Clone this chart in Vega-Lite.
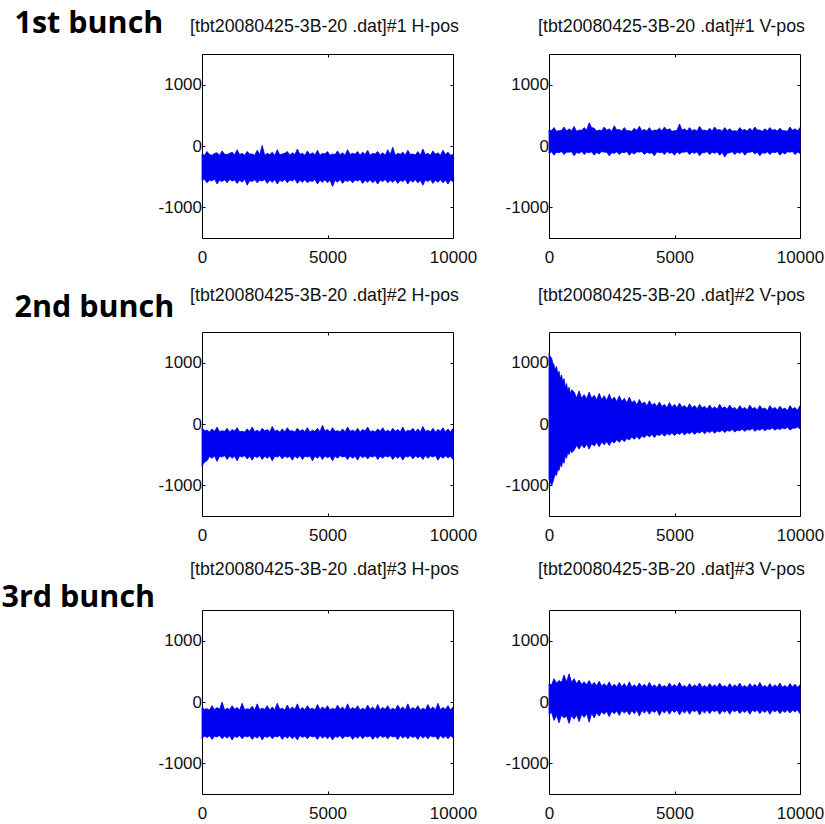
{
"$schema": "https://vega.github.io/schema/vega-lite/v6.json",
"background": "white",
"padding": {"left": 0, "top": 7, "right": 0, "bottom": 0},
"columns": 2,
"spacing": {"row": 94, "column": 96},
"bounds": "flush",
"data": {"values": [
{"p":1,"t":0,"hi":-130,"lo":-560},{"p":1,"t":100,"hi":-150,"lo":-545},{"p":1,"t":200,"hi":-90,"lo":-600},{"p":1,"t":300,"hi":-140,"lo":-555},{"p":1,"t":400,"hi":-150,"lo":-570},{"p":1,"t":500,"hi":-120,"lo":-540},{"p":1,"t":600,"hi":-110,"lo":-620},{"p":1,"t":700,"hi":-150,"lo":-560},{"p":1,"t":800,"hi":-80,"lo":-580},{"p":1,"t":900,"hi":-135,"lo":-550},{"p":1,"t":1000,"hi":-140,"lo":-600},{"p":1,"t":1100,"hi":-120,"lo":-545},{"p":1,"t":1200,"hi":-100,"lo":-570},{"p":1,"t":1300,"hi":-145,"lo":-555},{"p":1,"t":1400,"hi":-60,"lo":-610},{"p":1,"t":1500,"hi":-140,"lo":-560},{"p":1,"t":1600,"hi":-120,"lo":-590},{"p":1,"t":1700,"hi":-150,"lo":-540},{"p":1,"t":1800,"hi":-90,"lo":-640},{"p":1,"t":1900,"hi":-130,"lo":-565},{"p":1,"t":2000,"hi":-130,"lo":-580},{"p":1,"t":2100,"hi":-150,"lo":-550},{"p":1,"t":2200,"hi":-70,"lo":-600},{"p":1,"t":2300,"hi":-140,"lo":-560},{"p":1,"t":2400,"hi":10,"lo":-570},{"p":1,"t":2500,"hi":-150,"lo":-545},{"p":1,"t":2600,"hi":-120,"lo":-610},{"p":1,"t":2700,"hi":-140,"lo":-555},{"p":1,"t":2800,"hi":-100,"lo":-590},{"p":1,"t":2900,"hi":-155,"lo":-550},{"p":1,"t":3000,"hi":-60,"lo":-620},{"p":1,"t":3100,"hi":-145,"lo":-560},{"p":1,"t":3200,"hi":-130,"lo":-580},{"p":1,"t":3300,"hi":-120,"lo":-545},{"p":1,"t":3400,"hi":-90,"lo":-600},{"p":1,"t":3500,"hi":-150,"lo":-555},{"p":1,"t":3600,"hi":-110,"lo":-570},{"p":1,"t":3700,"hi":-140,"lo":-540},{"p":1,"t":3800,"hi":-50,"lo":-610},{"p":1,"t":3900,"hi":-135,"lo":-560},{"p":1,"t":4000,"hi":-120,"lo":-590},{"p":1,"t":4100,"hi":-150,"lo":-550},{"p":1,"t":4200,"hi":-80,"lo":-600},{"p":1,"t":4300,"hi":-140,"lo":-565},{"p":1,"t":4400,"hi":-110,"lo":-580},{"p":1,"t":4500,"hi":-145,"lo":-545},{"p":1,"t":4600,"hi":-70,"lo":-620},{"p":1,"t":4700,"hi":-150,"lo":-560},{"p":1,"t":4800,"hi":-120,"lo":-590},{"p":1,"t":4900,"hi":-130,"lo":-550},{"p":1,"t":5000,"hi":-90,"lo":-600},{"p":1,"t":5100,"hi":-150,"lo":-555},{"p":1,"t":5200,"hi":-130,"lo":-660},{"p":1,"t":5300,"hi":-140,"lo":-560},{"p":1,"t":5400,"hi":-80,"lo":-590},{"p":1,"t":5500,"hi":-145,"lo":-545},{"p":1,"t":5600,"hi":-110,"lo":-610},{"p":1,"t":5700,"hi":-150,"lo":-560},{"p":1,"t":5800,"hi":-60,"lo":-580},{"p":1,"t":5900,"hi":-140,"lo":-550},{"p":1,"t":6000,"hi":-120,"lo":-600},{"p":1,"t":6100,"hi":-135,"lo":-555},{"p":1,"t":6200,"hi":-90,"lo":-570},{"p":1,"t":6300,"hi":-150,"lo":-545},{"p":1,"t":6400,"hi":-100,"lo":-610},{"p":1,"t":6500,"hi":-140,"lo":-560},{"p":1,"t":6600,"hi":-70,"lo":-590},{"p":1,"t":6700,"hi":-150,"lo":-550},{"p":1,"t":6800,"hi":-120,"lo":-600},{"p":1,"t":6900,"hi":-130,"lo":-560},{"p":1,"t":7000,"hi":-90,"lo":-620},{"p":1,"t":7100,"hi":-145,"lo":-555},{"p":1,"t":7200,"hi":-110,"lo":-580},{"p":1,"t":7300,"hi":-150,"lo":-545},{"p":1,"t":7400,"hi":-60,"lo":-600},{"p":1,"t":7500,"hi":-140,"lo":-560},{"p":1,"t":7600,"hi":-20,"lo":-590},{"p":1,"t":7700,"hi":-150,"lo":-550},{"p":1,"t":7800,"hi":-120,"lo":-610},{"p":1,"t":7900,"hi":-135,"lo":-560},{"p":1,"t":8000,"hi":-100,"lo":-580},{"p":1,"t":8100,"hi":-150,"lo":-545},{"p":1,"t":8200,"hi":-70,"lo":-620},{"p":1,"t":8300,"hi":-140,"lo":-555},{"p":1,"t":8400,"hi":-130,"lo":-590},{"p":1,"t":8500,"hi":-145,"lo":-550},{"p":1,"t":8600,"hi":-90,"lo":-600},{"p":1,"t":8700,"hi":-150,"lo":-560},{"p":1,"t":8800,"hi":-50,"lo":-640},{"p":1,"t":8900,"hi":-140,"lo":-555},{"p":1,"t":9000,"hi":-120,"lo":-580},{"p":1,"t":9100,"hi":-150,"lo":-545},{"p":1,"t":9200,"hi":-80,"lo":-610},{"p":1,"t":9300,"hi":-135,"lo":-560},{"p":1,"t":9400,"hi":-110,"lo":-590},{"p":1,"t":9500,"hi":-150,"lo":-550},{"p":1,"t":9600,"hi":-70,"lo":-600},{"p":1,"t":9700,"hi":-140,"lo":-560},{"p":1,"t":9800,"hi":-100,"lo":-620},{"p":1,"t":9900,"hi":-150,"lo":-555},{"p":1,"t":10000,"hi":-140,"lo":-580},
{"p":2,"t":0,"hi":270,"lo":-120},{"p":2,"t":100,"hi":250,"lo":-95},{"p":2,"t":200,"hi":300,"lo":-150},{"p":2,"t":300,"hi":240,"lo":-100},{"p":2,"t":400,"hi":250,"lo":-110},{"p":2,"t":500,"hi":255,"lo":-90},{"p":2,"t":600,"hi":310,"lo":-140},{"p":2,"t":700,"hi":245,"lo":-100},{"p":2,"t":800,"hi":280,"lo":-100},{"p":2,"t":900,"hi":250,"lo":-95},{"p":2,"t":1000,"hi":320,"lo":-160},{"p":2,"t":1100,"hi":240,"lo":-105},{"p":2,"t":1200,"hi":260,"lo":-120},{"p":2,"t":1300,"hi":255,"lo":-90},{"p":2,"t":1400,"hi":300,"lo":-140},{"p":2,"t":1500,"hi":260,"lo":-100},{"p":2,"t":1600,"hi":380,"lo":-110},{"p":2,"t":1700,"hi":300,"lo":-95},{"p":2,"t":1800,"hi":290,"lo":-150},{"p":2,"t":1900,"hi":245,"lo":-105},{"p":2,"t":2000,"hi":260,"lo":-130},{"p":2,"t":2100,"hi":250,"lo":-90},{"p":2,"t":2200,"hi":310,"lo":-100},{"p":2,"t":2300,"hi":255,"lo":-100},{"p":2,"t":2400,"hi":280,"lo":-160},{"p":2,"t":2500,"hi":240,"lo":-110},{"p":2,"t":2600,"hi":330,"lo":-120},{"p":2,"t":2700,"hi":260,"lo":-95},{"p":2,"t":2800,"hi":270,"lo":-140},{"p":2,"t":2900,"hi":245,"lo":-100},{"p":2,"t":3000,"hi":300,"lo":-110},{"p":2,"t":3100,"hi":250,"lo":-90},{"p":2,"t":3200,"hi":250,"lo":-150},{"p":2,"t":3300,"hi":240,"lo":-105},{"p":2,"t":3400,"hi":290,"lo":-130},{"p":2,"t":3500,"hi":255,"lo":-95},{"p":2,"t":3600,"hi":320,"lo":-100},{"p":2,"t":3700,"hi":250,"lo":-90},{"p":2,"t":3800,"hi":270,"lo":-140},{"p":2,"t":3900,"hi":245,"lo":-100},{"p":2,"t":4000,"hi":300,"lo":-120},{"p":2,"t":4100,"hi":240,"lo":-110},{"p":2,"t":4200,"hi":260,"lo":-160},{"p":2,"t":4300,"hi":255,"lo":-95},{"p":2,"t":4400,"hi":290,"lo":-110},{"p":2,"t":4500,"hi":250,"lo":-100},{"p":2,"t":4600,"hi":310,"lo":-140},{"p":2,"t":4700,"hi":260,"lo":-90},{"p":2,"t":4800,"hi":280,"lo":-120},{"p":2,"t":4900,"hi":240,"lo":-105},{"p":2,"t":5000,"hi":250,"lo":-150},{"p":2,"t":5100,"hi":255,"lo":-95},{"p":2,"t":5200,"hi":360,"lo":-130},{"p":2,"t":5300,"hi":260,"lo":-100},{"p":2,"t":5400,"hi":280,"lo":-100},{"p":2,"t":5500,"hi":245,"lo":-90},{"p":2,"t":5600,"hi":300,"lo":-140},{"p":2,"t":5700,"hi":250,"lo":-100},{"p":2,"t":5800,"hi":270,"lo":-120},{"p":2,"t":5900,"hi":240,"lo":-95},{"p":2,"t":6000,"hi":320,"lo":-160},{"p":2,"t":6100,"hi":255,"lo":-110},{"p":2,"t":6200,"hi":260,"lo":-110},{"p":2,"t":6300,"hi":245,"lo":-90},{"p":2,"t":6400,"hi":290,"lo":-140},{"p":2,"t":6500,"hi":250,"lo":-100},{"p":2,"t":6600,"hi":310,"lo":-120},{"p":2,"t":6700,"hi":260,"lo":-95},{"p":2,"t":6800,"hi":270,"lo":-150},{"p":2,"t":6900,"hi":240,"lo":-105},{"p":2,"t":7000,"hi":300,"lo":-180},{"p":2,"t":7100,"hi":250,"lo":-120},{"p":2,"t":7200,"hi":280,"lo":-110},{"p":2,"t":7300,"hi":245,"lo":-95},{"p":2,"t":7400,"hi":250,"lo":-140},{"p":2,"t":7500,"hi":240,"lo":-100},{"p":2,"t":7600,"hi":300,"lo":-120},{"p":2,"t":7700,"hi":255,"lo":-90},{"p":2,"t":7800,"hi":270,"lo":-150},{"p":2,"t":7900,"hi":245,"lo":-105},{"p":2,"t":8000,"hi":290,"lo":-100},{"p":2,"t":8100,"hi":250,"lo":-90},{"p":2,"t":8200,"hi":310,"lo":-130},{"p":2,"t":8300,"hi":260,"lo":-100},{"p":2,"t":8400,"hi":260,"lo":-160},{"p":2,"t":8500,"hi":240,"lo":-110},{"p":2,"t":8600,"hi":280,"lo":-120},{"p":2,"t":8700,"hi":250,"lo":-95},{"p":2,"t":8800,"hi":300,"lo":-140},{"p":2,"t":8900,"hi":255,"lo":-100},{"p":2,"t":9000,"hi":270,"lo":-110},{"p":2,"t":9100,"hi":245,"lo":-90},{"p":2,"t":9200,"hi":290,"lo":-150},{"p":2,"t":9300,"hi":250,"lo":-105},{"p":2,"t":9400,"hi":250,"lo":-130},{"p":2,"t":9500,"hi":240,"lo":-95},{"p":2,"t":9600,"hi":310,"lo":-100},{"p":2,"t":9700,"hi":255,"lo":-90},{"p":2,"t":9800,"hi":280,"lo":-140},{"p":2,"t":9900,"hi":250,"lo":-100},{"p":2,"t":10000,"hi":300,"lo":-120},
{"p":3,"t":0,"hi":-60,"lo":-690},{"p":3,"t":100,"hi":-110,"lo":-620},{"p":3,"t":200,"hi":-100,"lo":-600},{"p":3,"t":300,"hi":-130,"lo":-530},{"p":3,"t":400,"hi":-80,"lo":-560},{"p":3,"t":500,"hi":-120,"lo":-520},{"p":3,"t":600,"hi":-50,"lo":-610},{"p":3,"t":700,"hi":-125,"lo":-525},{"p":3,"t":800,"hi":-110,"lo":-540},{"p":3,"t":900,"hi":-120,"lo":-515},{"p":3,"t":1000,"hi":-70,"lo":-580},{"p":3,"t":1100,"hi":-130,"lo":-520},{"p":3,"t":1200,"hi":-90,"lo":-560},{"p":3,"t":1300,"hi":-115,"lo":-525},{"p":3,"t":1400,"hi":-60,"lo":-600},{"p":3,"t":1500,"hi":-125,"lo":-520},{"p":3,"t":1600,"hi":-120,"lo":-540},{"p":3,"t":1700,"hi":-130,"lo":-515},{"p":3,"t":1800,"hi":-80,"lo":-570},{"p":3,"t":1900,"hi":-120,"lo":-525},{"p":3,"t":2000,"hi":-50,"lo":-590},{"p":3,"t":2100,"hi":-125,"lo":-520},{"p":3,"t":2200,"hi":-100,"lo":-550},{"p":3,"t":2300,"hi":-130,"lo":-515},{"p":3,"t":2400,"hi":-70,"lo":-580},{"p":3,"t":2500,"hi":-115,"lo":-525},{"p":3,"t":2600,"hi":-90,"lo":-560},{"p":3,"t":2700,"hi":-125,"lo":-520},{"p":3,"t":2800,"hi":-40,"lo":-600},{"p":3,"t":2900,"hi":-120,"lo":-525},{"p":3,"t":3000,"hi":-100,"lo":-540},{"p":3,"t":3100,"hi":-130,"lo":-515},{"p":3,"t":3200,"hi":-80,"lo":-570},{"p":3,"t":3300,"hi":-125,"lo":-520},{"p":3,"t":3400,"hi":-60,"lo":-550},{"p":3,"t":3500,"hi":-115,"lo":-525},{"p":3,"t":3600,"hi":-110,"lo":-590},{"p":3,"t":3700,"hi":-130,"lo":-520},{"p":3,"t":3800,"hi":-70,"lo":-560},{"p":3,"t":3900,"hi":-120,"lo":-515},{"p":3,"t":4000,"hi":-90,"lo":-580},{"p":3,"t":4100,"hi":-125,"lo":-525},{"p":3,"t":4200,"hi":-60,"lo":-540},{"p":3,"t":4300,"hi":-130,"lo":-520},{"p":3,"t":4400,"hi":-100,"lo":-600},{"p":3,"t":4500,"hi":-120,"lo":-525},{"p":3,"t":4600,"hi":-70,"lo":-560},{"p":3,"t":4700,"hi":-125,"lo":-515},{"p":3,"t":4800,"hi":-20,"lo":-580},{"p":3,"t":4900,"hi":-115,"lo":-520},{"p":3,"t":5000,"hi":-90,"lo":-550},{"p":3,"t":5100,"hi":-130,"lo":-525},{"p":3,"t":5200,"hi":-60,"lo":-600},{"p":3,"t":5300,"hi":-120,"lo":-520},{"p":3,"t":5400,"hi":-110,"lo":-560},{"p":3,"t":5500,"hi":-125,"lo":-515},{"p":3,"t":5600,"hi":-80,"lo":-540},{"p":3,"t":5700,"hi":-130,"lo":-525},{"p":3,"t":5800,"hi":-50,"lo":-580},{"p":3,"t":5900,"hi":-120,"lo":-520},{"p":3,"t":6000,"hi":-100,"lo":-560},{"p":3,"t":6100,"hi":-125,"lo":-525},{"p":3,"t":6200,"hi":-70,"lo":-590},{"p":3,"t":6300,"hi":-130,"lo":-515},{"p":3,"t":6400,"hi":-90,"lo":-550},{"p":3,"t":6500,"hi":-115,"lo":-520},{"p":3,"t":6600,"hi":-50,"lo":-570},{"p":3,"t":6700,"hi":-125,"lo":-525},{"p":3,"t":6800,"hi":-110,"lo":-540},{"p":3,"t":6900,"hi":-130,"lo":-515},{"p":3,"t":7000,"hi":-80,"lo":-580},{"p":3,"t":7100,"hi":-120,"lo":-525},{"p":3,"t":7200,"hi":-60,"lo":-560},{"p":3,"t":7300,"hi":-125,"lo":-520},{"p":3,"t":7400,"hi":-100,"lo":-540},{"p":3,"t":7500,"hi":-130,"lo":-515},{"p":3,"t":7600,"hi":-70,"lo":-580},{"p":3,"t":7700,"hi":-120,"lo":-525},{"p":3,"t":7800,"hi":-90,"lo":-560},{"p":3,"t":7900,"hi":-125,"lo":-520},{"p":3,"t":8000,"hi":-50,"lo":-590},{"p":3,"t":8100,"hi":-130,"lo":-525},{"p":3,"t":8200,"hi":-100,"lo":-540},{"p":3,"t":8300,"hi":-115,"lo":-515},{"p":3,"t":8400,"hi":-70,"lo":-570},{"p":3,"t":8500,"hi":-125,"lo":-520},{"p":3,"t":8600,"hi":-80,"lo":-550},{"p":3,"t":8700,"hi":-130,"lo":-525},{"p":3,"t":8800,"hi":-40,"lo":-580},{"p":3,"t":8900,"hi":-120,"lo":-515},{"p":3,"t":9000,"hi":-100,"lo":-560},{"p":3,"t":9100,"hi":-125,"lo":-520},{"p":3,"t":9200,"hi":-70,"lo":-540},{"p":3,"t":9300,"hi":-130,"lo":-515},{"p":3,"t":9400,"hi":-90,"lo":-590},{"p":3,"t":9500,"hi":-120,"lo":-525},{"p":3,"t":9600,"hi":-60,"lo":-560},{"p":3,"t":9700,"hi":-125,"lo":-520},{"p":3,"t":9800,"hi":-80,"lo":-550},{"p":3,"t":9900,"hi":-130,"lo":-525},{"p":3,"t":10000,"hi":-70,"lo":-580},
{"p":4,"t":0,"hi":1150,"lo":-900},{"p":4,"t":50,"hi":1100,"lo":-950},{"p":4,"t":100,"hi":1080,"lo":-1000},{"p":4,"t":150,"hi":1000,"lo":-960},{"p":4,"t":200,"hi":960,"lo":-880},{"p":4,"t":250,"hi":880,"lo":-820},{"p":4,"t":300,"hi":940,"lo":-840},{"p":4,"t":350,"hi":820,"lo":-740},{"p":4,"t":400,"hi":860,"lo":-760},{"p":4,"t":450,"hi":740,"lo":-660},{"p":4,"t":500,"hi":800,"lo":-700},{"p":4,"t":550,"hi":690,"lo":-600},{"p":4,"t":600,"hi":740,"lo":-640},{"p":4,"t":650,"hi":600,"lo":-520},{"p":4,"t":700,"hi":660,"lo":-560},{"p":4,"t":750,"hi":540,"lo":-460},{"p":4,"t":800,"hi":600,"lo":-500},{"p":4,"t":850,"hi":490,"lo":-420},{"p":4,"t":900,"hi":560,"lo":-470},{"p":4,"t":1000,"hi":520,"lo":-430},{"p":4,"t":1100,"hi":430,"lo":-350},{"p":4,"t":1200,"hi":540,"lo":-410},{"p":4,"t":1300,"hi":420,"lo":-340},{"p":4,"t":1400,"hi":480,"lo":-390},{"p":4,"t":1500,"hi":410,"lo":-330},{"p":4,"t":1600,"hi":520,"lo":-410},{"p":4,"t":1700,"hi":420,"lo":-320},{"p":4,"t":1800,"hi":470,"lo":-360},{"p":4,"t":1900,"hi":395,"lo":-300},{"p":4,"t":2000,"hi":500,"lo":-370},{"p":4,"t":2100,"hi":400,"lo":-295},{"p":4,"t":2200,"hi":460,"lo":-340},{"p":4,"t":2300,"hi":385,"lo":-285},{"p":4,"t":2400,"hi":490,"lo":-350},{"p":4,"t":2500,"hi":390,"lo":-280},{"p":4,"t":2600,"hi":440,"lo":-310},{"p":4,"t":2700,"hi":365,"lo":-255},{"p":4,"t":2800,"hi":460,"lo":-300},{"p":4,"t":2900,"hi":370,"lo":-245},{"p":4,"t":3000,"hi":420,"lo":-290},{"p":4,"t":3100,"hi":345,"lo":-235},{"p":4,"t":3200,"hi":440,"lo":-260},{"p":4,"t":3300,"hi":350,"lo":-215},{"p":4,"t":3400,"hi":380,"lo":-250},{"p":4,"t":3500,"hi":315,"lo":-205},{"p":4,"t":3600,"hi":400,"lo":-250},{"p":4,"t":3700,"hi":325,"lo":-195},{"p":4,"t":3800,"hi":360,"lo":-220},{"p":4,"t":3900,"hi":295,"lo":-175},{"p":4,"t":4000,"hi":380,"lo":-210},{"p":4,"t":4100,"hi":305,"lo":-170},{"p":4,"t":4200,"hi":340,"lo":-220},{"p":4,"t":4300,"hi":285,"lo":-170},{"p":4,"t":4400,"hi":360,"lo":-190},{"p":4,"t":4500,"hi":285,"lo":-155},{"p":4,"t":4600,"hi":320,"lo":-200},{"p":4,"t":4700,"hi":265,"lo":-155},{"p":4,"t":4800,"hi":350,"lo":-180},{"p":4,"t":4900,"hi":275,"lo":-145},{"p":4,"t":5000,"hi":320,"lo":-190},{"p":4,"t":5100,"hi":265,"lo":-145},{"p":4,"t":5200,"hi":340,"lo":-170},{"p":4,"t":5300,"hi":275,"lo":-135},{"p":4,"t":5400,"hi":300,"lo":-180},{"p":4,"t":5500,"hi":255,"lo":-140},{"p":4,"t":5600,"hi":330,"lo":-160},{"p":4,"t":5700,"hi":265,"lo":-125},{"p":4,"t":5800,"hi":300,"lo":-170},{"p":4,"t":5900,"hi":250,"lo":-130},{"p":4,"t":6000,"hi":320,"lo":-150},{"p":4,"t":6100,"hi":260,"lo":-115},{"p":4,"t":6200,"hi":290,"lo":-160},{"p":4,"t":6300,"hi":245,"lo":-120},{"p":4,"t":6400,"hi":310,"lo":-140},{"p":4,"t":6500,"hi":250,"lo":-110},{"p":4,"t":6600,"hi":280,"lo":-150},{"p":4,"t":6700,"hi":240,"lo":-115},{"p":4,"t":6800,"hi":320,"lo":-130},{"p":4,"t":6900,"hi":255,"lo":-100},{"p":4,"t":7000,"hi":280,"lo":-140},{"p":4,"t":7100,"hi":240,"lo":-105},{"p":4,"t":7200,"hi":310,"lo":-120},{"p":4,"t":7300,"hi":250,"lo":-90},{"p":4,"t":7400,"hi":270,"lo":-130},{"p":4,"t":7500,"hi":230,"lo":-100},{"p":4,"t":7600,"hi":300,"lo":-110},{"p":4,"t":7700,"hi":245,"lo":-85},{"p":4,"t":7800,"hi":270,"lo":-120},{"p":4,"t":7900,"hi":230,"lo":-90},{"p":4,"t":8000,"hi":310,"lo":-100},{"p":4,"t":8100,"hi":250,"lo":-75},{"p":4,"t":8200,"hi":270,"lo":-120},{"p":4,"t":8300,"hi":230,"lo":-90},{"p":4,"t":8400,"hi":300,"lo":-100},{"p":4,"t":8500,"hi":245,"lo":-75},{"p":4,"t":8600,"hi":260,"lo":-110},{"p":4,"t":8700,"hi":220,"lo":-80},{"p":4,"t":8800,"hi":300,"lo":-90},{"p":4,"t":8900,"hi":245,"lo":-65},{"p":4,"t":9000,"hi":270,"lo":-100},{"p":4,"t":9100,"hi":230,"lo":-75},{"p":4,"t":9200,"hi":290,"lo":-90},{"p":4,"t":9300,"hi":240,"lo":-65},{"p":4,"t":9400,"hi":260,"lo":-80},{"p":4,"t":9500,"hi":220,"lo":-55},{"p":4,"t":9600,"hi":300,"lo":-100},{"p":4,"t":9700,"hi":245,"lo":-70},{"p":4,"t":9800,"hi":270,"lo":-70},{"p":4,"t":9900,"hi":225,"lo":-50},{"p":4,"t":10000,"hi":300,"lo":-80},
{"p":5,"t":0,"hi":-80,"lo":-600},{"p":5,"t":100,"hi":-120,"lo":-555},{"p":5,"t":200,"hi":-110,"lo":-580},{"p":5,"t":300,"hi":-130,"lo":-550},{"p":5,"t":400,"hi":-60,"lo":-610},{"p":5,"t":500,"hi":-125,"lo":-560},{"p":5,"t":600,"hi":-90,"lo":-570},{"p":5,"t":700,"hi":-120,"lo":-545},{"p":5,"t":800,"hi":0,"lo":-600},{"p":5,"t":900,"hi":-130,"lo":-555},{"p":5,"t":1000,"hi":-100,"lo":-590},{"p":5,"t":1100,"hi":-125,"lo":-550},{"p":5,"t":1200,"hi":-60,"lo":-620},{"p":5,"t":1300,"hi":-120,"lo":-560},{"p":5,"t":1400,"hi":-90,"lo":-580},{"p":5,"t":1500,"hi":-130,"lo":-545},{"p":5,"t":1600,"hi":-20,"lo":-600},{"p":5,"t":1700,"hi":-125,"lo":-555},{"p":5,"t":1800,"hi":-110,"lo":-570},{"p":5,"t":1900,"hi":-120,"lo":-550},{"p":5,"t":2000,"hi":-70,"lo":-610},{"p":5,"t":2100,"hi":-130,"lo":-560},{"p":5,"t":2200,"hi":-30,"lo":-590},{"p":5,"t":2300,"hi":-125,"lo":-545},{"p":5,"t":2400,"hi":-100,"lo":-620},{"p":5,"t":2500,"hi":-120,"lo":-555},{"p":5,"t":2600,"hi":-60,"lo":-580},{"p":5,"t":2700,"hi":-130,"lo":-550},{"p":5,"t":2800,"hi":-80,"lo":-600},{"p":5,"t":2900,"hi":-125,"lo":-560},{"p":5,"t":3000,"hi":-20,"lo":-570},{"p":5,"t":3100,"hi":-120,"lo":-545},{"p":5,"t":3200,"hi":-100,"lo":-610},{"p":5,"t":3300,"hi":-130,"lo":-555},{"p":5,"t":3400,"hi":-50,"lo":-590},{"p":5,"t":3500,"hi":-125,"lo":-550},{"p":5,"t":3600,"hi":-80,"lo":-600},{"p":5,"t":3700,"hi":-120,"lo":-560},{"p":5,"t":3800,"hi":-30,"lo":-620},{"p":5,"t":3900,"hi":-130,"lo":-545},{"p":5,"t":4000,"hi":-90,"lo":-580},{"p":5,"t":4100,"hi":-125,"lo":-555},{"p":5,"t":4200,"hi":-60,"lo":-600},{"p":5,"t":4300,"hi":-120,"lo":-550},{"p":5,"t":4400,"hi":-100,"lo":-570},{"p":5,"t":4500,"hi":-130,"lo":-560},{"p":5,"t":4600,"hi":-40,"lo":-610},{"p":5,"t":4700,"hi":-125,"lo":-545},{"p":5,"t":4800,"hi":-80,"lo":-590},{"p":5,"t":4900,"hi":-120,"lo":-555},{"p":5,"t":5000,"hi":-60,"lo":-600},{"p":5,"t":5100,"hi":-130,"lo":-550},{"p":5,"t":5200,"hi":-100,"lo":-620},{"p":5,"t":5300,"hi":-125,"lo":-560},{"p":5,"t":5400,"hi":-50,"lo":-580},{"p":5,"t":5500,"hi":-120,"lo":-545},{"p":5,"t":5600,"hi":-80,"lo":-600},{"p":5,"t":5700,"hi":-130,"lo":-555},{"p":5,"t":5800,"hi":-30,"lo":-570},{"p":5,"t":5900,"hi":-125,"lo":-550},{"p":5,"t":6000,"hi":-90,"lo":-610},{"p":5,"t":6100,"hi":-120,"lo":-560},{"p":5,"t":6200,"hi":-60,"lo":-590},{"p":5,"t":6300,"hi":-130,"lo":-545},{"p":5,"t":6400,"hi":-100,"lo":-600},{"p":5,"t":6500,"hi":-125,"lo":-555},{"p":5,"t":6600,"hi":-50,"lo":-570},{"p":5,"t":6700,"hi":-120,"lo":-550},{"p":5,"t":6800,"hi":-80,"lo":-610},{"p":5,"t":6900,"hi":-130,"lo":-560},{"p":5,"t":7000,"hi":-40,"lo":-590},{"p":5,"t":7100,"hi":-125,"lo":-545},{"p":5,"t":7200,"hi":-90,"lo":-580},{"p":5,"t":7300,"hi":-120,"lo":-555},{"p":5,"t":7400,"hi":-60,"lo":-600},{"p":5,"t":7500,"hi":-130,"lo":-550},{"p":5,"t":7600,"hi":-100,"lo":-570},{"p":5,"t":7700,"hi":-125,"lo":-560},{"p":5,"t":7800,"hi":-50,"lo":-610},{"p":5,"t":7900,"hi":-120,"lo":-545},{"p":5,"t":8000,"hi":-80,"lo":-590},{"p":5,"t":8100,"hi":-130,"lo":-555},{"p":5,"t":8200,"hi":-30,"lo":-600},{"p":5,"t":8300,"hi":-125,"lo":-550},{"p":5,"t":8400,"hi":-90,"lo":-580},{"p":5,"t":8500,"hi":-120,"lo":-560},{"p":5,"t":8600,"hi":-60,"lo":-610},{"p":5,"t":8700,"hi":-130,"lo":-545},{"p":5,"t":8800,"hi":-100,"lo":-590},{"p":5,"t":8900,"hi":-125,"lo":-555},{"p":5,"t":9000,"hi":-40,"lo":-600},{"p":5,"t":9100,"hi":-120,"lo":-550},{"p":5,"t":9200,"hi":-80,"lo":-570},{"p":5,"t":9300,"hi":-130,"lo":-560},{"p":5,"t":9400,"hi":-20,"lo":-610},{"p":5,"t":9500,"hi":-125,"lo":-545},{"p":5,"t":9600,"hi":-90,"lo":-590},{"p":5,"t":9700,"hi":-120,"lo":-555},{"p":5,"t":9800,"hi":-60,"lo":-600},{"p":5,"t":9900,"hi":-130,"lo":-550},{"p":5,"t":10000,"hi":-80,"lo":-580},
{"p":6,"t":0,"hi":300,"lo":-200},{"p":6,"t":100,"hi":280,"lo":-170},{"p":6,"t":200,"hi":380,"lo":-300},{"p":6,"t":300,"hi":310,"lo":-220},{"p":6,"t":400,"hi":350,"lo":-340},{"p":6,"t":500,"hi":320,"lo":-210},{"p":6,"t":600,"hi":440,"lo":-260},{"p":6,"t":700,"hi":330,"lo":-230},{"p":6,"t":800,"hi":460,"lo":-350},{"p":6,"t":900,"hi":320,"lo":-220},{"p":6,"t":1000,"hi":380,"lo":-280},{"p":6,"t":1100,"hi":300,"lo":-210},{"p":6,"t":1200,"hi":360,"lo":-320},{"p":6,"t":1300,"hi":290,"lo":-200},{"p":6,"t":1400,"hi":330,"lo":-250},{"p":6,"t":1500,"hi":280,"lo":-190},{"p":6,"t":1600,"hi":350,"lo":-330},{"p":6,"t":1700,"hi":275,"lo":-185},{"p":6,"t":1800,"hi":320,"lo":-260},{"p":6,"t":1900,"hi":265,"lo":-175},{"p":6,"t":2000,"hi":340,"lo":-230},{"p":6,"t":2100,"hi":260,"lo":-160},{"p":6,"t":2200,"hi":300,"lo":-200},{"p":6,"t":2300,"hi":255,"lo":-155},{"p":6,"t":2400,"hi":330,"lo":-240},{"p":6,"t":2500,"hi":250,"lo":-150},{"p":6,"t":2600,"hi":290,"lo":-190},{"p":6,"t":2700,"hi":245,"lo":-145},{"p":6,"t":2800,"hi":320,"lo":-220},{"p":6,"t":2900,"hi":250,"lo":-140},{"p":6,"t":3000,"hi":300,"lo":-180},{"p":6,"t":3100,"hi":240,"lo":-145},{"p":6,"t":3200,"hi":330,"lo":-210},{"p":6,"t":3300,"hi":245,"lo":-140},{"p":6,"t":3400,"hi":280,"lo":-190},{"p":6,"t":3500,"hi":240,"lo":-135},{"p":6,"t":3600,"hi":310,"lo":-230},{"p":6,"t":3700,"hi":250,"lo":-140},{"p":6,"t":3800,"hi":290,"lo":-180},{"p":6,"t":3900,"hi":240,"lo":-135},{"p":6,"t":4000,"hi":320,"lo":-200},{"p":6,"t":4100,"hi":245,"lo":-140},{"p":6,"t":4200,"hi":280,"lo":-170},{"p":6,"t":4300,"hi":235,"lo":-130},{"p":6,"t":4400,"hi":300,"lo":-220},{"p":6,"t":4500,"hi":240,"lo":-140},{"p":6,"t":4600,"hi":270,"lo":-180},{"p":6,"t":4700,"hi":235,"lo":-130},{"p":6,"t":4800,"hi":310,"lo":-200},{"p":6,"t":4900,"hi":245,"lo":-135},{"p":6,"t":5000,"hi":290,"lo":-170},{"p":6,"t":5100,"hi":240,"lo":-130},{"p":6,"t":5200,"hi":320,"lo":-210},{"p":6,"t":5300,"hi":245,"lo":-140},{"p":6,"t":5400,"hi":270,"lo":-180},{"p":6,"t":5500,"hi":235,"lo":-130},{"p":6,"t":5600,"hi":300,"lo":-200},{"p":6,"t":5700,"hi":240,"lo":-135},{"p":6,"t":5800,"hi":280,"lo":-160},{"p":6,"t":5900,"hi":245,"lo":-130},{"p":6,"t":6000,"hi":310,"lo":-210},{"p":6,"t":6100,"hi":240,"lo":-140},{"p":6,"t":6200,"hi":270,"lo":-180},{"p":6,"t":6300,"hi":235,"lo":-130},{"p":6,"t":6400,"hi":300,"lo":-190},{"p":6,"t":6500,"hi":245,"lo":-135},{"p":6,"t":6600,"hi":280,"lo":-160},{"p":6,"t":6700,"hi":240,"lo":-130},{"p":6,"t":6800,"hi":310,"lo":-200},{"p":6,"t":6900,"hi":245,"lo":-140},{"p":6,"t":7000,"hi":270,"lo":-170},{"p":6,"t":7100,"hi":235,"lo":-130},{"p":6,"t":7200,"hi":300,"lo":-200},{"p":6,"t":7300,"hi":240,"lo":-135},{"p":6,"t":7400,"hi":280,"lo":-160},{"p":6,"t":7500,"hi":245,"lo":-130},{"p":6,"t":7600,"hi":310,"lo":-190},{"p":6,"t":7700,"hi":240,"lo":-140},{"p":6,"t":7800,"hi":270,"lo":-170},{"p":6,"t":7900,"hi":235,"lo":-130},{"p":6,"t":8000,"hi":300,"lo":-200},{"p":6,"t":8100,"hi":245,"lo":-135},{"p":6,"t":8200,"hi":290,"lo":-160},{"p":6,"t":8300,"hi":240,"lo":-130},{"p":6,"t":8400,"hi":320,"lo":-190},{"p":6,"t":8500,"hi":245,"lo":-140},{"p":6,"t":8600,"hi":270,"lo":-170},{"p":6,"t":8700,"hi":235,"lo":-130},{"p":6,"t":8800,"hi":300,"lo":-200},{"p":6,"t":8900,"hi":240,"lo":-135},{"p":6,"t":9000,"hi":280,"lo":-160},{"p":6,"t":9100,"hi":245,"lo":-130},{"p":6,"t":9200,"hi":310,"lo":-190},{"p":6,"t":9300,"hi":240,"lo":-140},{"p":6,"t":9400,"hi":270,"lo":-170},{"p":6,"t":9500,"hi":235,"lo":-130},{"p":6,"t":9600,"hi":300,"lo":-180},{"p":6,"t":9700,"hi":245,"lo":-135},{"p":6,"t":9800,"hi":290,"lo":-160},{"p":6,"t":9900,"hi":240,"lo":-130},{"p":6,"t":10000,"hi":280,"lo":-190}
]},
"concat": [
{"width": 251, "height": 184, "transform": [{"filter": "datum.p == 1"}],
 "layer": [
  {"mark": {"type": "area", "color": "#0000f0", "stroke": "#0000f0", "strokeWidth": 0.8},
   "encoding": {"x": {"field": "t", "type": "quantitative", "scale": {"domain": [0, 10000], "nice": false}, "axis": {"values": [0, 5000, 10000], "title": null}},
    "y": {"field": "hi", "type": "quantitative", "scale": {"domain": [-1500, 1500], "nice": false, "zero": false}, "axis": {"values": [-1000, 0, 1000], "title": "1st bunch", "titleX": -188, "titleY": -22, "titleAlign": "left", "titleBaseline": "alphabetic", "titleAngle": 0, "titleFont": "Open Sans", "titleFontWeight": "bold", "titleFontSize": 30.5, "titleColor": "#000"}},
    "y2": {"field": "lo"}}},
  {"mark": {"type": "area", "opacity": 0},
   "encoding": {"x": {"field": "t", "type": "quantitative", "axis": {"orient": "top", "values": [5000], "labels": false, "title": "[tbt20080425-3B-20 .dat]#1 H-pos", "titleY": -23}},
    "y": {"field": "hi", "type": "quantitative", "axis": {"orient": "right", "values": [-1000, 0, 1000], "labels": false, "title": null}},
    "y2": {"field": "lo"}}}
 ],
 "resolve": {"axis": {"x": "independent", "y": "independent"}}},
{"width": 251, "height": 184, "transform": [{"filter": "datum.p == 2"}],
 "layer": [
  {"mark": {"type": "area", "color": "#0000f0", "stroke": "#0000f0", "strokeWidth": 0.8},
   "encoding": {"x": {"field": "t", "type": "quantitative", "scale": {"domain": [0, 10000], "nice": false}, "axis": {"values": [0, 5000, 10000], "title": null}},
    "y": {"field": "hi", "type": "quantitative", "scale": {"domain": [-1500, 1500], "nice": false, "zero": false}, "axis": {"values": [-1000, 0, 1000], "title": null}},
    "y2": {"field": "lo"}}},
  {"mark": {"type": "area", "opacity": 0},
   "encoding": {"x": {"field": "t", "type": "quantitative", "axis": {"orient": "top", "values": [5000], "labels": false, "title": "[tbt20080425-3B-20 .dat]#1 V-pos", "titleY": -23}},
    "y": {"field": "hi", "type": "quantitative", "axis": {"orient": "right", "values": [-1000, 0, 1000], "labels": false, "title": null}},
    "y2": {"field": "lo"}}}
 ],
 "resolve": {"axis": {"x": "independent", "y": "independent"}}},
{"width": 251, "height": 184, "transform": [{"filter": "datum.p == 3"}],
 "layer": [
  {"mark": {"type": "area", "color": "#0000f0", "stroke": "#0000f0", "strokeWidth": 0.8},
   "encoding": {"x": {"field": "t", "type": "quantitative", "scale": {"domain": [0, 10000], "nice": false}, "axis": {"values": [0, 5000, 10000], "title": null}},
    "y": {"field": "hi", "type": "quantitative", "scale": {"domain": [-1500, 1500], "nice": false, "zero": false}, "axis": {"values": [-1000, 0, 1000], "title": "2nd bunch", "titleX": -188, "titleY": -16, "titleAlign": "left", "titleBaseline": "alphabetic", "titleAngle": 0, "titleFont": "Open Sans", "titleFontWeight": "bold", "titleFontSize": 30.5, "titleColor": "#000"}},
    "y2": {"field": "lo"}}},
  {"mark": {"type": "area", "opacity": 0},
   "encoding": {"x": {"field": "t", "type": "quantitative", "axis": {"orient": "top", "values": [5000], "labels": false, "title": "[tbt20080425-3B-20 .dat]#2 H-pos", "titleY": -32}},
    "y": {"field": "hi", "type": "quantitative", "axis": {"orient": "right", "values": [-1000, 0, 1000], "labels": false, "title": null}},
    "y2": {"field": "lo"}}}
 ],
 "resolve": {"axis": {"x": "independent", "y": "independent"}}},
{"width": 251, "height": 184, "transform": [{"filter": "datum.p == 4"}],
 "layer": [
  {"mark": {"type": "area", "color": "#0000f0", "stroke": "#0000f0", "strokeWidth": 0.8},
   "encoding": {"x": {"field": "t", "type": "quantitative", "scale": {"domain": [0, 10000], "nice": false}, "axis": {"values": [0, 5000, 10000], "title": null}},
    "y": {"field": "hi", "type": "quantitative", "scale": {"domain": [-1500, 1500], "nice": false, "zero": false}, "axis": {"values": [-1000, 0, 1000], "title": null}},
    "y2": {"field": "lo"}}},
  {"mark": {"type": "area", "opacity": 0},
   "encoding": {"x": {"field": "t", "type": "quantitative", "axis": {"orient": "top", "values": [5000], "labels": false, "title": "[tbt20080425-3B-20 .dat]#2 V-pos", "titleY": -32}},
    "y": {"field": "hi", "type": "quantitative", "axis": {"orient": "right", "values": [-1000, 0, 1000], "labels": false, "title": null}},
    "y2": {"field": "lo"}}}
 ],
 "resolve": {"axis": {"x": "independent", "y": "independent"}}},
{"width": 251, "height": 184, "transform": [{"filter": "datum.p == 5"}],
 "layer": [
  {"mark": {"type": "area", "color": "#0000f0", "stroke": "#0000f0", "strokeWidth": 0.8},
   "encoding": {"x": {"field": "t", "type": "quantitative", "scale": {"domain": [0, 10000], "nice": false}, "axis": {"values": [0, 5000, 10000], "title": null}},
    "y": {"field": "hi", "type": "quantitative", "scale": {"domain": [-1500, 1500], "nice": false, "zero": false}, "axis": {"values": [-1000, 0, 1000], "title": "3rd bunch", "titleX": -201, "titleY": -4, "titleAlign": "left", "titleBaseline": "alphabetic", "titleAngle": 0, "titleFont": "Open Sans", "titleFontWeight": "bold", "titleFontSize": 30.5, "titleColor": "#000"}},
    "y2": {"field": "lo"}}},
  {"mark": {"type": "area", "opacity": 0},
   "encoding": {"x": {"field": "t", "type": "quantitative", "axis": {"orient": "top", "values": [5000], "labels": false, "title": "[tbt20080425-3B-20 .dat]#3 H-pos", "titleY": -36}},
    "y": {"field": "hi", "type": "quantitative", "axis": {"orient": "right", "values": [-1000, 0, 1000], "labels": false, "title": null}},
    "y2": {"field": "lo"}}}
 ],
 "resolve": {"axis": {"x": "independent", "y": "independent"}}},
{"width": 251, "height": 184, "transform": [{"filter": "datum.p == 6"}],
 "layer": [
  {"mark": {"type": "area", "color": "#0000f0", "stroke": "#0000f0", "strokeWidth": 0.8},
   "encoding": {"x": {"field": "t", "type": "quantitative", "scale": {"domain": [0, 10000], "nice": false}, "axis": {"values": [0, 5000, 10000], "title": null}},
    "y": {"field": "hi", "type": "quantitative", "scale": {"domain": [-1500, 1500], "nice": false, "zero": false}, "axis": {"values": [-1000, 0, 1000], "title": null}},
    "y2": {"field": "lo"}}},
  {"mark": {"type": "area", "opacity": 0},
   "encoding": {"x": {"field": "t", "type": "quantitative", "axis": {"orient": "top", "values": [5000], "labels": false, "title": "[tbt20080425-3B-20 .dat]#3 V-pos", "titleY": -36}},
    "y": {"field": "hi", "type": "quantitative", "axis": {"orient": "right", "values": [-1000, 0, 1000], "labels": false, "title": null}},
    "y2": {"field": "lo"}}}
 ],
 "resolve": {"axis": {"x": "independent", "y": "independent"}}}
],
"config": {
 "view": {"stroke": "#000", "strokeWidth": 1},
 "axis": {"domain": false, "grid": false, "ticks": true, "tickSize": -3, "tickColor": "#000", "labelFont": "Liberation Sans", "labelFontSize": 17, "labelColor": "#111", "labelFlush": false, "labelOverlap": false, "labelExpr": "'' + datum.value"},
 "axisX": {"labelPadding": 14},
 "axisY": {"labelPadding": 3.5},
 "axisTop": {"titleX": 122, "titleAlign": "center", "titleBaseline": "alphabetic", "titleAngle": 0, "titleFont": "Liberation Sans", "titleFontSize": 17.8, "titleFontWeight": "normal", "titleColor": "#111"}
}
}
